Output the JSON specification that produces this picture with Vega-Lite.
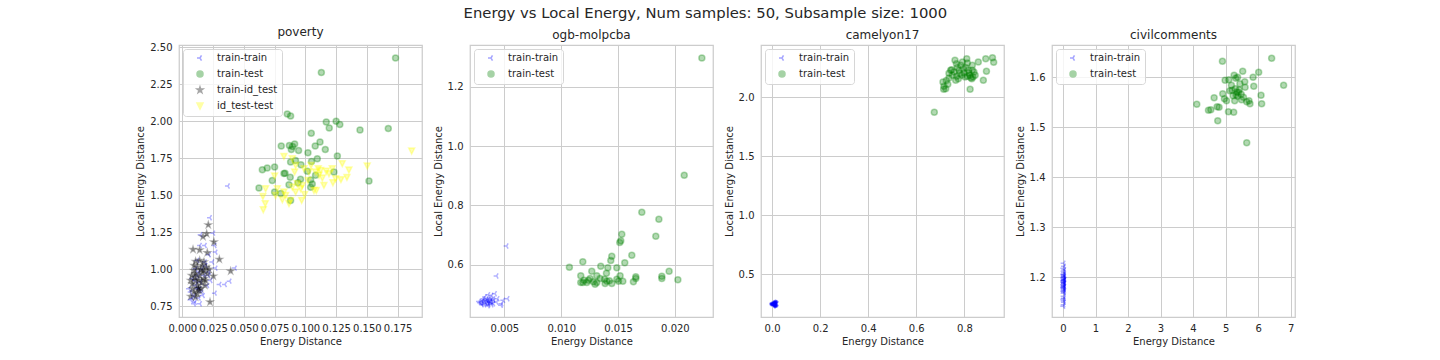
{
"$schema": "https://vega.github.io/schema/vega-lite/v6.json",
"background": "white",
"padding": {"left": 135, "top": 5, "right": 0, "bottom": 0},
"title": {"text": "Energy vs Local Energy, Num samples: 50, Subsample size: 1000", "fontSize": 14.8, "fontWeight": "normal", "color": "#262626", "anchor": "middle", "offset": 5, "dx": -10},
"spacing": 9,
"datasets": {
"p1": [
{"s":"train-train","x":0.0225,"y":1.348},{"s":"train-train","x":0.0252,"y":1.244},{"s":"train-train","x":0.0263,"y":1.161},{"s":"train-train","x":0.0271,"y":1.116},{"s":"train-train","x":0.0244,"y":1.049},{"s":"train-train","x":0.0271,"y":1.008},{"s":"train-train","x":0.0428,"y":1.008},{"s":"train-train","x":0.0385,"y":0.92},{"s":"train-train","x":0.0347,"y":0.898},{"s":"train-train","x":0.0303,"y":0.898},{"s":"train-train","x":0.0265,"y":0.839},{"s":"train-train","x":0.0184,"y":1.161},{"s":"train-train","x":0.0149,"y":1.233},{"s":"train-train","x":0.0144,"y":1.161},{"s":"train-train","x":0.0122,"y":1.06},{"s":"train-train","x":0.0184,"y":1.049},{"s":"train-train","x":0.0217,"y":1.098},{"s":"train-train","x":0.0211,"y":0.958},{"s":"train-train","x":0.0168,"y":0.823},{"s":"train-train","x":0.0144,"y":0.767},{"s":"train-train","x":0.0103,"y":0.778},{"s":"train-train","x":0.0068,"y":0.794},{"s":"train-train","x":0.0054,"y":0.869},{"s":"train-train","x":0.0081,"y":0.936},{"s":"train-train","x":0.0135,"y":0.981},{"s":"train-train","x":0.0108,"y":1.004},{"s":"train-train","x":0.0149,"y":0.914},{"s":"train-train","x":0.0122,"y":0.869},{"s":"train-train","x":0.0095,"y":0.823},{"s":"train-train","x":0.0135,"y":0.806},{"s":"train-train","x":0.0176,"y":0.958},{"s":"train-train","x":0.0081,"y":0.801},{"s":"train-train","x":0.0108,"y":0.891},{"s":"train-train","x":0.0203,"y":0.891},{"s":"train-train","x":0.0162,"y":1.004},{"s":"train-train","x":0.023,"y":0.925},{"s":"train-train","x":0.0068,"y":0.846},{"s":"train-train","x":0.0095,"y":0.767},{"s":"train-train","x":0.0141,"y":0.869},{"s":"train-train","x":0.0157,"y":0.846},{"s":"train-train","x":0.019,"y":1.026},{"s":"train-train","x":0.0122,"y":0.958},{"s":"train-train","x":0.0108,"y":0.925},{"s":"train-train","x":0.0217,"y":0.981},{"s":"train-train","x":0.0371,"y":1.562},
{"s":"train-test","x":0.1733,"y":2.426},{"s":"train-test","x":0.113,"y":2.329},{"s":"train-test","x":0.0853,"y":2.048},{"s":"train-test","x":0.088,"y":2.034},{"s":"train-test","x":0.117,"y":1.994},{"s":"train-test","x":0.125,"y":2.0},{"s":"train-test","x":0.128,"y":1.978},{"s":"train-test","x":0.1194,"y":1.953},{"s":"train-test","x":0.1048,"y":1.919},{"s":"train-test","x":0.1444,"y":1.94},{"s":"train-test","x":0.1674,"y":1.951},{"s":"train-test","x":0.0804,"y":1.832},{"s":"train-test","x":0.087,"y":1.836},{"s":"train-test","x":0.0913,"y":1.845},{"s":"train-test","x":0.0896,"y":1.829},{"s":"train-test","x":0.0945,"y":1.802},{"s":"train-test","x":0.0886,"y":1.809},{"s":"train-test","x":0.1119,"y":1.859},{"s":"train-test","x":0.108,"y":1.832},{"s":"train-test","x":0.1162,"y":1.809},{"s":"train-test","x":0.1021,"y":1.787},{"s":"train-test","x":0.126,"y":1.764},{"s":"train-test","x":0.1097,"y":1.746},{"s":"train-test","x":0.088,"y":1.724},{"s":"train-test","x":0.092,"y":1.735},{"s":"train-test","x":0.0964,"y":1.706},{"s":"train-test","x":0.105,"y":1.728},{"s":"train-test","x":0.065,"y":1.672},{"s":"train-test","x":0.069,"y":1.683},{"s":"train-test","x":0.075,"y":1.69},{"s":"train-test","x":0.0826,"y":1.647},{"s":"train-test","x":0.1016,"y":1.661},{"s":"train-test","x":0.1232,"y":1.656},{"s":"train-test","x":0.1083,"y":1.634},{"s":"train-test","x":0.0877,"y":1.622},{"s":"train-test","x":0.0731,"y":1.6},{"s":"train-test","x":0.0961,"y":1.607},{"s":"train-test","x":0.094,"y":1.584},{"s":"train-test","x":0.1043,"y":1.602},{"s":"train-test","x":0.1056,"y":1.575},{"s":"train-test","x":0.1043,"y":1.553},{"s":"train-test","x":0.0867,"y":1.571},{"s":"train-test","x":0.0623,"y":1.548},{"s":"train-test","x":0.075,"y":1.521},{"s":"train-test","x":0.08,"y":1.512},{"s":"train-test","x":0.088,"y":1.465},{"s":"train-test","x":0.1517,"y":1.596},{"s":"train-test","x":0.0835,"y":1.648},
{"s":"train-id_test","x":0.0211,"y":1.3},{"s":"train-id_test","x":0.0198,"y":1.24},{"s":"train-id_test","x":0.0168,"y":1.22},{"s":"train-id_test","x":0.0257,"y":1.184},{"s":"train-id_test","x":0.0087,"y":1.134},{"s":"train-id_test","x":0.0141,"y":1.13},{"s":"train-id_test","x":0.0203,"y":1.112},{"s":"train-id_test","x":0.0301,"y":1.067},{"s":"train-id_test","x":0.0393,"y":0.988},{"s":"train-id_test","x":0.0252,"y":0.954},{"s":"train-id_test","x":0.0225,"y":0.779},{"s":"train-id_test","x":0.0108,"y":1.053},{"s":"train-id_test","x":0.0141,"y":1.06},{"s":"train-id_test","x":0.0176,"y":1.049},{"s":"train-id_test","x":0.0122,"y":1.015},{"s":"train-id_test","x":0.0095,"y":0.992},{"s":"train-id_test","x":0.0195,"y":1.015},{"s":"train-id_test","x":0.0217,"y":1.0},{"s":"train-id_test","x":0.0162,"y":0.981},{"s":"train-id_test","x":0.0103,"y":0.947},{"s":"train-id_test","x":0.0135,"y":0.925},{"s":"train-id_test","x":0.0176,"y":0.936},{"s":"train-id_test","x":0.0081,"y":0.902},{"s":"train-id_test","x":0.0122,"y":0.891},{"s":"train-id_test","x":0.0149,"y":0.869},{"s":"train-id_test","x":0.0095,"y":0.846},{"s":"train-id_test","x":0.0068,"y":0.817},{"s":"train-id_test","x":0.0108,"y":0.812},{"s":"train-id_test","x":0.0135,"y":0.857},{"s":"train-id_test","x":0.0184,"y":0.891},{"s":"train-id_test","x":0.0108,"y":0.97},{"s":"train-id_test","x":0.0141,"y":0.958},{"s":"train-id_test","x":0.0095,"y":1.026},{"s":"train-id_test","x":0.0162,"y":1.026},{"s":"train-id_test","x":0.0203,"y":0.97},{"s":"train-id_test","x":0.0081,"y":0.869},{"s":"train-id_test","x":0.0122,"y":0.835},{"s":"train-id_test","x":0.0157,"y":0.914},{"s":"train-id_test","x":0.0076,"y":0.958},{"s":"train-id_test","x":0.0149,"y":0.999},{"s":"train-id_test","x":0.0176,"y":0.992},{"s":"train-id_test","x":0.0108,"y":0.925},{"s":"train-id_test","x":0.013,"y":0.873},{"s":"train-id_test","x":0.019,"y":0.925},{"s":"train-id_test","x":0.0068,"y":0.925},
{"s":"id_test-test","x":0.1864,"y":1.798},{"s":"id_test-test","x":0.1503,"y":1.697},{"s":"id_test-test","x":0.1354,"y":1.67},{"s":"id_test-test","x":0.1338,"y":1.62},{"s":"id_test-test","x":0.13,"y":1.713},{"s":"id_test-test","x":0.1289,"y":1.605},{"s":"id_test-test","x":0.1224,"y":1.584},{"s":"id_test-test","x":0.117,"y":1.661},{"s":"id_test-test","x":0.1138,"y":1.616},{"s":"id_test-test","x":0.1111,"y":1.634},{"s":"id_test-test","x":0.1105,"y":1.679},{"s":"id_test-test","x":0.1083,"y":1.656},{"s":"id_test-test","x":0.1089,"y":1.532},{"s":"id_test-test","x":0.1046,"y":1.701},{"s":"id_test-test","x":0.1021,"y":1.6},{"s":"id_test-test","x":0.0994,"y":1.505},{"s":"id_test-test","x":0.097,"y":1.465},{"s":"id_test-test","x":0.0934,"y":1.577},{"s":"id_test-test","x":0.0913,"y":1.656},{"s":"id_test-test","x":0.0894,"y":1.746},{"s":"id_test-test","x":0.0826,"y":1.762},{"s":"id_test-test","x":0.088,"y":1.465},{"s":"id_test-test","x":0.0867,"y":1.443},{"s":"id_test-test","x":0.084,"y":1.498},{"s":"id_test-test","x":0.0813,"y":1.469},{"s":"id_test-test","x":0.0772,"y":1.543},{"s":"id_test-test","x":0.075,"y":1.629},{"s":"id_test-test","x":0.0677,"y":1.543},{"s":"id_test-test","x":0.0655,"y":1.492},{"s":"id_test-test","x":0.0674,"y":1.443},{"s":"id_test-test","x":0.0658,"y":1.402},{"s":"id_test-test","x":0.1029,"y":1.656},{"s":"id_test-test","x":0.1192,"y":1.645},{"s":"id_test-test","x":0.1246,"y":1.611},{"s":"id_test-test","x":0.0921,"y":1.701},{"s":"id_test-test","x":0.0989,"y":1.679},{"s":"id_test-test","x":0.0894,"y":1.555},{"s":"id_test-test","x":0.0962,"y":1.543},{"s":"id_test-test","x":0.0975,"y":1.566},{"s":"id_test-test","x":0.1124,"y":1.667},{"s":"id_test-test","x":0.1151,"y":1.566},{"s":"id_test-test","x":0.107,"y":1.532},{"s":"id_test-test","x":0.0826,"y":1.521},{"s":"id_test-test","x":0.0758,"y":1.498},{"s":"id_test-test","x":0.0921,"y":1.521},{"s":"id_test-test","x":0.1219,"y":1.679}
],
"p2": [
{"s":"train-train","x":0.0052,"y":0.663},{"s":"train-train","x":0.00432,"y":0.562},{"s":"train-train","x":0.003,"y":0.4742},{"s":"train-train","x":0.00344,"y":0.48},{"s":"train-train","x":0.00374,"y":0.4742},{"s":"train-train","x":0.00403,"y":0.4853},{"s":"train-train","x":0.00418,"y":0.5022},{"s":"train-train","x":0.00388,"y":0.4968},{"s":"train-train","x":0.00359,"y":0.4988},{"s":"train-train","x":0.0033,"y":0.491},{"s":"train-train","x":0.00315,"y":0.48},{"s":"train-train","x":0.00286,"y":0.4718},{"s":"train-train","x":0.00324,"y":0.4651},{"s":"train-train","x":0.00359,"y":0.4685},{"s":"train-train","x":0.00388,"y":0.4651},{"s":"train-train","x":0.00432,"y":0.4742},{"s":"train-train","x":0.00476,"y":0.4685},{"s":"train-train","x":0.00491,"y":0.48},{"s":"train-train","x":0.00529,"y":0.4853},{"s":"train-train","x":0.00471,"y":0.4631},{"s":"train-train","x":0.00362,"y":0.481},{"s":"train-train","x":0.00356,"y":0.4742},{"s":"train-train","x":0.00339,"y":0.4685},{"s":"train-train","x":0.00306,"y":0.4763},{"s":"train-train","x":0.003,"y":0.4685},{"s":"train-train","x":0.0038,"y":0.4763},{"s":"train-train","x":0.00388,"y":0.4718},{"s":"train-train","x":0.00406,"y":0.48},{"s":"train-train","x":0.00344,"y":0.4853},{"s":"train-train","x":0.00315,"y":0.4853},{"s":"train-train","x":0.00374,"y":0.4876},{"s":"train-train","x":0.0033,"y":0.4742},{"s":"train-train","x":0.00362,"y":0.4651},{"s":"train-train","x":0.00441,"y":0.4853},{"s":"train-train","x":0.00277,"y":0.4763},{"s":"train-train","x":0.00403,"y":0.4685},{"s":"train-train","x":0.00382,"y":0.481},{"s":"train-train","x":0.00303,"y":0.4651},{"s":"train-train","x":0.00356,"y":0.4617},{"s":"train-train","x":0.0035,"y":0.478},
{"s":"train-test","x":0.02237,"y":1.298},{"s":"train-test","x":0.02082,"y":0.902},{"s":"train-test","x":0.01709,"y":0.777},{"s":"train-test","x":0.01859,"y":0.7537},{"s":"train-test","x":0.01832,"y":0.6963},{"s":"train-test","x":0.01533,"y":0.7031},{"s":"train-test","x":0.01524,"y":0.6806},{"s":"train-test","x":0.01515,"y":0.675},{"s":"train-test","x":0.01621,"y":0.6323},{"s":"train-test","x":0.01445,"y":0.6289},{"s":"train-test","x":0.01436,"y":0.6143},{"s":"train-test","x":0.01559,"y":0.6064},{"s":"train-test","x":0.0119,"y":0.6098},{"s":"train-test","x":0.01072,"y":0.5918},{"s":"train-test","x":0.01348,"y":0.5952},{"s":"train-test","x":0.0141,"y":0.5896},{"s":"train-test","x":0.01489,"y":0.5896},{"s":"train-test","x":0.01269,"y":0.5783},{"s":"train-test","x":0.01313,"y":0.5626},{"s":"train-test","x":0.01398,"y":0.5716},{"s":"train-test","x":0.01172,"y":0.5626},{"s":"train-test","x":0.01518,"y":0.5626},{"s":"train-test","x":0.01656,"y":0.5592},{"s":"train-test","x":0.01635,"y":0.5423},{"s":"train-test","x":0.01885,"y":0.5614},{"s":"train-test","x":0.01885,"y":0.5536},{"s":"train-test","x":0.01949,"y":0.5783},{"s":"train-test","x":0.02026,"y":0.5491},{"s":"train-test","x":0.0124,"y":0.548},{"s":"train-test","x":0.01254,"y":0.5536},{"s":"train-test","x":0.01283,"y":0.5423},{"s":"train-test","x":0.0119,"y":0.5401},{"s":"train-test","x":0.01225,"y":0.5401},{"s":"train-test","x":0.01298,"y":0.5344},{"s":"train-test","x":0.01401,"y":0.5446},{"s":"train-test","x":0.01386,"y":0.5367},{"s":"train-test","x":0.01424,"y":0.5457},{"s":"train-test","x":0.01445,"y":0.5367},{"s":"train-test","x":0.01504,"y":0.5446},{"s":"train-test","x":0.01542,"y":0.5446},{"s":"train-test","x":0.01489,"y":0.5513},{"s":"train-test","x":0.01342,"y":0.5536},{"s":"train-test","x":0.01201,"y":0.548},{"s":"train-test","x":0.01313,"y":0.5401},{"s":"train-test","x":0.0138,"y":0.5513},{"s":"train-test","x":0.01656,"y":0.5536},{"s":"train-test","x":0.01172,"y":0.5401}
],
"p3": [
{"s":"train-train","x":0.004,"y":0.248},{"s":"train-train","x":0.006,"y":0.252},{"s":"train-train","x":0.008,"y":0.245},{"s":"train-train","x":0.01,"y":0.25},{"s":"train-train","x":0.012,"y":0.247},{"s":"train-train","x":0.005,"y":0.242},{"s":"train-train","x":0.007,"y":0.256},{"s":"train-train","x":0.009,"y":0.24},{"s":"train-train","x":0.011,"y":0.254},{"s":"train-train","x":0.013,"y":0.243},{"s":"train-train","x":0.003,"y":0.25},{"s":"train-train","x":0.015,"y":0.249},{"s":"train-train","x":0.002,"y":0.245},{"s":"train-train","x":0.006,"y":0.238},{"s":"train-train","x":0.008,"y":0.26},{"s":"train-train","x":0.01,"y":0.236},{"s":"train-train","x":0.012,"y":0.262},{"s":"train-train","x":0.014,"y":0.255},{"s":"train-train","x":0.016,"y":0.241},{"s":"train-train","x":0.004,"y":0.257},{"s":"train-train","x":0.007,"y":0.247},{"s":"train-train","x":0.009,"y":0.251},{"s":"train-train","x":0.011,"y":0.246},{"s":"train-train","x":0.005,"y":0.253},{"s":"train-train","x":0.013,"y":0.25},{"s":"train-train","x":0.018,"y":0.247},{"s":"train-train","x":0.001,"y":0.252},{"s":"train-train","x":0.02,"y":0.252},{"s":"train-train","x":0.006,"y":0.244},{"s":"train-train","x":0.008,"y":0.249},{"s":"train-train","x":0.01,"y":0.243},{"s":"train-train","x":0.012,"y":0.257},{"s":"train-train","x":0.003,"y":0.24},{"s":"train-train","x":0.015,"y":0.26},{"s":"train-train","x":0.009,"y":0.265},{"s":"train-train","x":0.007,"y":0.232},{"s":"train-train","x":0.011,"y":0.239},{"s":"train-train","x":0.014,"y":0.245},{"s":"train-train","x":0.002,"y":0.258},{"s":"train-train","x":0.017,"y":0.255},
{"s":"train-test","x":0.675,"y":1.871},{"s":"train-test","x":0.714,"y":2.065},{"s":"train-test","x":0.7225,"y":2.07},{"s":"train-test","x":0.711,"y":2.127},{"s":"train-test","x":0.731,"y":2.107},{"s":"train-test","x":0.736,"y":2.161},{"s":"train-test","x":0.75,"y":2.184},{"s":"train-test","x":0.7475,"y":2.231},{"s":"train-test","x":0.761,"y":2.31},{"s":"train-test","x":0.767,"y":2.282},{"s":"train-test","x":0.778,"y":2.226},{"s":"train-test","x":0.775,"y":2.155},{"s":"train-test","x":0.789,"y":2.184},{"s":"train-test","x":0.785,"y":2.268},{"s":"train-test","x":0.796,"y":2.24},{"s":"train-test","x":0.81,"y":2.324},{"s":"train-test","x":0.8125,"y":2.288},{"s":"train-test","x":0.806,"y":2.25},{"s":"train-test","x":0.8225,"y":2.184},{"s":"train-test","x":0.827,"y":2.163},{"s":"train-test","x":0.836,"y":2.169},{"s":"train-test","x":0.845,"y":2.184},{"s":"train-test","x":0.824,"y":2.065},{"s":"train-test","x":0.833,"y":2.226},{"s":"train-test","x":0.84,"y":2.212},{"s":"train-test","x":0.858,"y":2.296},{"s":"train-test","x":0.879,"y":2.141},{"s":"train-test","x":0.892,"y":2.217},{"s":"train-test","x":0.889,"y":2.324},{"s":"train-test","x":0.917,"y":2.332},{"s":"train-test","x":0.922,"y":2.294},{"s":"train-test","x":0.757,"y":2.212},{"s":"train-test","x":0.768,"y":2.175},{"s":"train-test","x":0.743,"y":2.226},{"s":"train-test","x":0.764,"y":2.141},{"s":"train-test","x":0.781,"y":2.198},{"s":"train-test","x":0.799,"y":2.203},{"s":"train-test","x":0.817,"y":2.226},{"s":"train-test","x":0.819,"y":2.203},{"s":"train-test","x":0.831,"y":2.155},{"s":"train-test","x":0.813,"y":2.175},{"s":"train-test","x":0.771,"y":2.25},{"s":"train-test","x":0.792,"y":2.296},{"s":"train-test","x":0.803,"y":2.17},{"s":"train-test","x":0.715,"y":2.09},{"s":"train-test","x":0.725,"y":2.14},{"s":"train-test","x":0.833,"y":2.268},{"s":"train-test","x":0.736,"y":2.2}
],
"p4": [
{"s":"train-train","x":0.02,"y":1.228},{"s":"train-train","x":0.03,"y":1.222},{"s":"train-train","x":0.01,"y":1.218},{"s":"train-train","x":0.04,"y":1.215},{"s":"train-train","x":0.02,"y":1.212},{"s":"train-train","x":0.03,"y":1.209},{"s":"train-train","x":0.01,"y":1.206},{"s":"train-train","x":0.02,"y":1.204},{"s":"train-train","x":0.04,"y":1.202},{"s":"train-train","x":0.03,"y":1.2},{"s":"train-train","x":0.01,"y":1.199},{"s":"train-train","x":0.02,"y":1.197},{"s":"train-train","x":0.05,"y":1.196},{"s":"train-train","x":0.03,"y":1.194},{"s":"train-train","x":0.01,"y":1.193},{"s":"train-train","x":0.02,"y":1.191},{"s":"train-train","x":0.04,"y":1.19},{"s":"train-train","x":0.03,"y":1.188},{"s":"train-train","x":0.02,"y":1.186},{"s":"train-train","x":0.01,"y":1.185},{"s":"train-train","x":0.03,"y":1.183},{"s":"train-train","x":0.04,"y":1.181},{"s":"train-train","x":0.02,"y":1.18},{"s":"train-train","x":0.01,"y":1.178},{"s":"train-train","x":0.03,"y":1.177},{"s":"train-train","x":0.02,"y":1.175},{"s":"train-train","x":0.04,"y":1.173},{"s":"train-train","x":0.01,"y":1.172},{"s":"train-train","x":0.03,"y":1.17},{"s":"train-train","x":0.02,"y":1.168},{"s":"train-train","x":0.02,"y":1.201},{"s":"train-train","x":0.03,"y":1.205},{"s":"train-train","x":0.01,"y":1.19},{"s":"train-train","x":0.02,"y":1.183},{"s":"train-train","x":0.04,"y":1.195},{"s":"train-train","x":0.02,"y":1.162},{"s":"train-train","x":0.03,"y":1.158},{"s":"train-train","x":0.01,"y":1.156},{"s":"train-train","x":0.02,"y":1.153},{"s":"train-train","x":0.03,"y":1.15},{"s":"train-train","x":0.02,"y":1.145},{"s":"train-train","x":0.01,"y":1.142},{"s":"train-train","x":0.03,"y":1.188},{"s":"train-train","x":0.02,"y":1.194},{"s":"train-train","x":0.01,"y":1.18},
{"s":"train-test","x":4.903,"y":1.632},{"s":"train-test","x":6.417,"y":1.638},{"s":"train-test","x":6.785,"y":1.584},{"s":"train-test","x":4.114,"y":1.546},{"s":"train-test","x":4.474,"y":1.534},{"s":"train-test","x":4.546,"y":1.535},{"s":"train-test","x":4.648,"y":1.559},{"s":"train-test","x":4.759,"y":1.513},{"s":"train-test","x":4.74,"y":1.541},{"s":"train-test","x":4.8,"y":1.54},{"s":"train-test","x":4.913,"y":1.567},{"s":"train-test","x":4.964,"y":1.557},{"s":"train-test","x":4.986,"y":1.594},{"s":"train-test","x":5.088,"y":1.531},{"s":"train-test","x":5.25,"y":1.53},{"s":"train-test","x":5.1,"y":1.595},{"s":"train-test","x":5.262,"y":1.604},{"s":"train-test","x":5.313,"y":1.598},{"s":"train-test","x":5.527,"y":1.612},{"s":"train-test","x":5.37,"y":1.6},{"s":"train-test","x":5.589,"y":1.591},{"s":"train-test","x":5.846,"y":1.6},{"s":"train-test","x":6.018,"y":1.61},{"s":"train-test","x":5.866,"y":1.582},{"s":"train-test","x":5.2,"y":1.574},{"s":"train-test","x":5.3,"y":1.577},{"s":"train-test","x":5.35,"y":1.57},{"s":"train-test","x":5.42,"y":1.575},{"s":"train-test","x":5.48,"y":1.566},{"s":"train-test","x":5.37,"y":1.562},{"s":"train-test","x":5.23,"y":1.563},{"s":"train-test","x":5.13,"y":1.573},{"s":"train-test","x":5.6,"y":1.58},{"s":"train-test","x":5.55,"y":1.56},{"s":"train-test","x":5.28,"y":1.553},{"s":"train-test","x":5.49,"y":1.555},{"s":"train-test","x":5.65,"y":1.551},{"s":"train-test","x":5.75,"y":1.547},{"s":"train-test","x":5.72,"y":1.553},{"s":"train-test","x":6.09,"y":1.564},{"s":"train-test","x":6.11,"y":1.547},{"s":"train-test","x":5.44,"y":1.587},{"s":"train-test","x":5.18,"y":1.584},{"s":"train-test","x":5.03,"y":1.553},{"s":"train-test","x":5.65,"y":1.469},{"s":"train-test","x":5.4,"y":1.57},{"s":"train-test","x":5.32,"y":1.565}
]
},
"hconcat": [
{
"title": "poverty",
"width": 243, "height": 272,
"data": {"name": "p1"},
"mark": {"type": "point", "filled": true, "size": 36, "fillOpacity": 0.3, "strokeOpacity": 0.3, "strokeWidth": 1.5},
"encoding": {
"x": {"field": "x", "type": "quantitative", "scale": {"domain": [-0.0027, 0.1948], "nice": false, "zero": false}, "axis": {"title": "Energy Distance", "values": [0, 0.025, 0.05, 0.075, 0.1, 0.125, 0.15, 0.175], "format": ".3f"}},
"y": {"field": "y", "type": "quantitative", "scale": {"domain": [0.678, 2.514], "nice": false, "zero": false}, "axis": {"title": "Local Energy Distance", "values": [0.75, 1.0, 1.25, 1.5, 1.75, 2.0, 2.25, 2.5], "format": ".2f"}},
"color": {"field": "s", "type": "nominal", "scale": {"domain": ["train-train", "train-test", "train-id_test", "id_test-test"], "range": ["#0000ff", "#008000", "#000000", "#ffff00"]}, "legend": {"title": null}},
"stroke": {"field": "s", "type": "nominal", "scale": {"domain": ["train-train", "train-test", "train-id_test", "id_test-test"], "range": ["#0000ff", "#008000", "#000000", "#ffff00"]}, "legend": {"title": null}},
"shape": {"field": "s", "type": "nominal", "scale": {"domain": ["train-train", "train-test", "train-id_test", "id_test-test"], "range": ["M0,0L-1,0M0,0L0.5,-0.866M0,0L0.5,0.866", "circle", "M0,-1L0.2245,-0.309L0.951,-0.309L0.363,0.118L0.588,0.809L0,0.382L-0.588,0.809L-0.363,0.118L-0.951,-0.309L-0.2245,-0.309Z", "M-1,-1L1,-1L0,1Z"]}, "legend": {"title": null}}
}
},
{
"title": "ogb-molpcba",
"width": 243, "height": 272,
"data": {"name": "p2"},
"mark": {"type": "point", "filled": true, "size": 36, "fillOpacity": 0.3, "strokeOpacity": 0.3, "strokeWidth": 1.5},
"encoding": {
"x": {"field": "x", "type": "quantitative", "scale": {"domain": [0.00198, 0.02335], "nice": false, "zero": false}, "axis": {"title": "Energy Distance", "values": [0.005, 0.01, 0.015, 0.02], "format": ".3f"}},
"y": {"field": "y", "type": "quantitative", "scale": {"domain": [0.4236, 1.3417], "nice": false, "zero": false}, "axis": {"title": "Local Energy Distance", "values": [0.6, 0.8, 1.0, 1.2], "format": ".1f"}},
"color": {"field": "s", "type": "nominal", "scale": {"domain": ["train-train", "train-test"], "range": ["#0000ff", "#008000"]}, "legend": {"title": null}},
"stroke": {"field": "s", "type": "nominal", "scale": {"domain": ["train-train", "train-test"], "range": ["#0000ff", "#008000"]}, "legend": {"title": null}},
"shape": {"field": "s", "type": "nominal", "scale": {"domain": ["train-train", "train-test"], "range": ["M0,0L-1,0M0,0L0.5,-0.866M0,0L0.5,0.866", "circle"]}, "legend": {"title": null}}
}
},
{
"title": "camelyon17",
"width": 243, "height": 272,
"data": {"name": "p3"},
"mark": {"type": "point", "filled": true, "size": 36, "fillOpacity": 0.3, "strokeOpacity": 0.3, "strokeWidth": 1.5},
"encoding": {
"x": {"field": "x", "type": "quantitative", "scale": {"domain": [-0.046, 0.965], "nice": false, "zero": false}, "axis": {"title": "Energy Distance", "values": [0, 0.2, 0.4, 0.6, 0.8], "format": ".1f"}},
"y": {"field": "y", "type": "quantitative", "scale": {"domain": [0.139, 2.44], "nice": false, "zero": false}, "axis": {"title": "Local Energy Distance", "values": [0.5, 1.0, 1.5, 2.0], "format": ".1f"}},
"color": {"field": "s", "type": "nominal", "scale": {"domain": ["train-train", "train-test"], "range": ["#0000ff", "#008000"]}, "legend": {"title": null}},
"stroke": {"field": "s", "type": "nominal", "scale": {"domain": ["train-train", "train-test"], "range": ["#0000ff", "#008000"]}, "legend": {"title": null}},
"shape": {"field": "s", "type": "nominal", "scale": {"domain": ["train-train", "train-test"], "range": ["M0,0L-1,0M0,0L0.5,-0.866M0,0L0.5,0.866", "circle"]}, "legend": {"title": null}}
}
},
{
"title": "civilcomments",
"width": 243, "height": 272,
"data": {"name": "p4"},
"mark": {"type": "point", "filled": true, "size": 36, "fillOpacity": 0.3, "strokeOpacity": 0.3, "strokeWidth": 1.5},
"encoding": {
"x": {"field": "x", "type": "quantitative", "scale": {"domain": [-0.338, 7.135], "nice": false, "zero": false}, "axis": {"title": "Energy Distance", "values": [0, 1, 2, 3, 4, 5, 6, 7], "format": "d"}},
"y": {"field": "y", "type": "quantitative", "scale": {"domain": [1.1206, 1.6646], "nice": false, "zero": false}, "axis": {"title": "Local Energy Distance", "values": [1.2, 1.3, 1.4, 1.5, 1.6], "format": ".1f"}},
"color": {"field": "s", "type": "nominal", "scale": {"domain": ["train-train", "train-test"], "range": ["#0000ff", "#008000"]}, "legend": {"title": null}},
"stroke": {"field": "s", "type": "nominal", "scale": {"domain": ["train-train", "train-test"], "range": ["#0000ff", "#008000"]}, "legend": {"title": null}},
"shape": {"field": "s", "type": "nominal", "scale": {"domain": ["train-train", "train-test"], "range": ["M0,0L-1,0M0,0L0.5,-0.866M0,0L0.5,0.866", "circle"]}, "legend": {"title": null}}
}
}
],
"resolve": {"scale": {"x": "independent", "y": "independent", "color": "independent", "stroke": "independent", "shape": "independent"}, "legend": {"color": "independent", "stroke": "independent", "shape": "independent"}},
"config": {
"font": "DejaVu Sans",
"view": {"stroke": "#cccccc", "strokeWidth": 1.25},
"axis": {"domain": false, "ticks": false, "grid": true, "gridColor": "#cccccc", "gridWidth": 1, "labelFontSize": 10, "labelColor": "#262626", "labelFont": "DejaVu Sans", "titleFont": "DejaVu Sans", "titleFontSize": 10, "titleColor": "#262626", "titleFontWeight": "normal"},
"axisX": {"labelPadding": 6, "titlePadding": 3},
"axisY": {"labelPadding": 7, "titlePadding": 4},
"title": {"fontSize": 12, "fontWeight": "normal", "color": "#262626", "font": "DejaVu Sans", "offset": 3, "baseline": "alphabetic"},
"legend": {"orient": "top-left", "offset": 4, "padding": 4, "fillColor": "rgba(255,255,255,0.8)", "strokeColor": "#d6d6d6", "cornerRadius": 3, "labelFontSize": 10, "labelColor": "#262626", "labelFont": "DejaVu Sans", "rowPadding": 4, "symbolOffset": 8, "labelOffset": 12, "symbolSize": 36, "symbolStrokeWidth": 1.5, "symbolOpacity": 0.35}
}
}
